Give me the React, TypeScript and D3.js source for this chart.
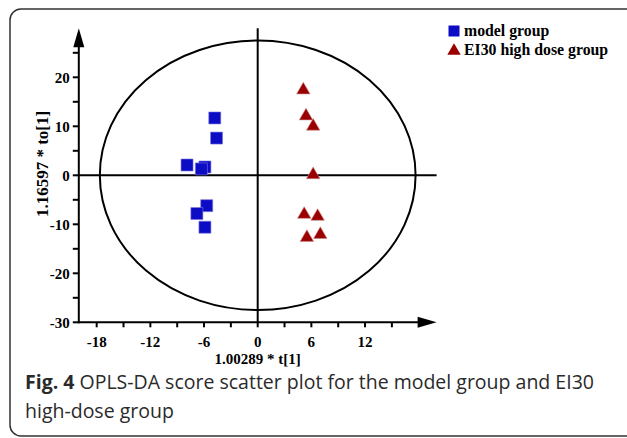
import React from "react";
import * as d3 from "d3";

const modelX = [-4.8, -4.6, -7.9, -5.9, -6.3, -5.7, -6.8, -5.9];
const modelY = [11.7, 7.6, 2.1, 1.7, 1.3, -6.2, -7.8, -10.6];
const doseX = [5.1, 5.4, 6.2, 6.2, 5.2, 6.7, 5.5, 7.0];
const doseY = [17.4, 12.1, 10.0, 0.1, -8.0, -8.4, -12.7, -12.1];
const xMajor = [-18, -12, -6, 0, 6, 12];
const xMinor = [-15, -9, -3, 3, 9, 15];
const yMajor = [-30, -20, -10, 0, 10, 20];
const yMinor = [-25, -15, -5, 5, 15, 25];
const ellipseR = [17.65, 27.5];
const legendLabels = ["model group", "EI30 high dose group"];
const xTitle = "1.00289 * t[1]";
const yTitle = "1.16597 * to[1]";

const BLUE = "#0c0cc4";
const RED = "#9a0000";
const SERIF = "'Liberation Serif', 'Times New Roman', serif";

export default function App() {
  const x = d3.scaleLinear().domain([-20, 20]).range([78.8, 436.6]);
  const y = d3.scaleLinear().domain([-30, 30]).range([322.3, 28.3]);
  const sq = d3.symbol().type(d3.symbolSquare).size(144)();
  const tri = d3.symbol().type(d3.symbolTriangle).size(78)();
  const x0 = x(-20);
  const y0 = y(-30);
  const sw = 2;
  return (
    <svg width={627} height={438} style={{ position: "absolute", left: 0, top: 0 }}>
      <rect x={10} y={9} width={630} height={427} rx={11} ry={11} fill="white" stroke="#333" strokeWidth={1.5} />
      {/* ellipse */}
      <ellipse cx={x(0)} cy={y(0)} rx={x(ellipseR[0]) - x(0)} ry={y(0) - y(ellipseR[1])} fill="none" stroke="#000" strokeWidth={sw} />
      {/* reference lines */}
      <line x1={x0} x2={x(20)} y1={y(0)} y2={y(0)} stroke="#000" strokeWidth={sw} />
      <line x1={x(0)} x2={x(0)} y1={y(30)} y2={y0} stroke="#000" strokeWidth={sw} />
      {/* axes */}
      <line x1={x0} x2={x(20) - 12} y1={y0} y2={y0} stroke="#000" strokeWidth={sw} />
      <path d={`M${x(20) - 19},${y0 - 5.5}L${x(20)},${y0}L${x(20) - 19},${y0 + 5.5}Z`} fill="#000" />
      <line x1={x0} x2={x0} y1={y0 + 1} y2={y(30) + 12} stroke="#000" strokeWidth={sw} />
      <path d={`M${x0 - 5.5},${y(30) + 19}L${x0},${y(30)}L${x0 + 5.5},${y(30) + 19}Z`} fill="#000" />
      {xMajor.concat(xMinor).map((v) => (
        <line key={"xt" + v} x1={x(v)} x2={x(v)} y1={y0} y2={y0 + 5} stroke="#000" strokeWidth={sw} />
      ))}
      {yMajor.concat(yMinor).map((v) => (
        <line key={"yt" + v} x1={x0 - 6} x2={x0} y1={y(v)} y2={y(v)} stroke="#000" strokeWidth={sw} />
      ))}
      {xMajor.map((v) => (
        <text key={"xl" + v} x={x(v)} y={346.5} textAnchor="middle" fontFamily={SERIF} fontWeight="bold" fontSize={15}>
          {v}
        </text>
      ))}
      {yMajor.map((v) => (
        <text key={"yl" + v} x={x0 - 9} y={y(v)} dy="0.35em" textAnchor="end" fontFamily={SERIF} fontWeight="bold" fontSize={15}>
          {v}
        </text>
      ))}
      <text x={x(0)} y={363.5} textAnchor="middle" fontFamily={SERIF} fontWeight="bold" fontSize={15}>
        {xTitle}
      </text>
      <text transform={`translate(48,${164}) rotate(-90)`} textAnchor="middle" fontFamily={SERIF} fontWeight="bold" fontSize={17}>
        {yTitle}
      </text>
      {/* points */}
      {modelX.map((v, i) => (
        <path key={"m" + i} d={sq!} transform={`translate(${x(v)},${y(modelY[i])})`} fill={BLUE} stroke="#7a7ae0" strokeWidth={0.6} />
      ))}
      {doseX.map((v, i) => (
        <path key={"d" + i} d={tri!} transform={`translate(${x(v)},${y(doseY[i])})`} fill={RED} stroke="#c88" strokeWidth={0.6} />
      ))}
      {/* legend */}
      <path d={d3.symbol().type(d3.symbolSquare).size(121)()!} transform="translate(454,31)" fill={BLUE} />
      <path d={tri!} transform="translate(454,51)" fill={RED} />
      <text x={464} y={36} fontFamily={SERIF} fontWeight="bold" fontSize={15.8}>{legendLabels[0]}</text>
      <text x={464} y={55} fontFamily={SERIF} fontWeight="bold" fontSize={15.8}>{legendLabels[1]}</text>
      {/* caption */}
      <text x={25} y={389} fontFamily="'Open Sans', sans-serif" fontSize={19.5} fill="#2a2a2a">
        <tspan fontWeight="bold">Fig. 4</tspan>
        <tspan> OPLS-DA score scatter plot for the model group and EI30</tspan>
      </text>
      <text x={25} y={418} fontFamily="'Open Sans', sans-serif" fontSize={19.5} fill="#2a2a2a">
        high-dose group
      </text>
    </svg>
  );
}
